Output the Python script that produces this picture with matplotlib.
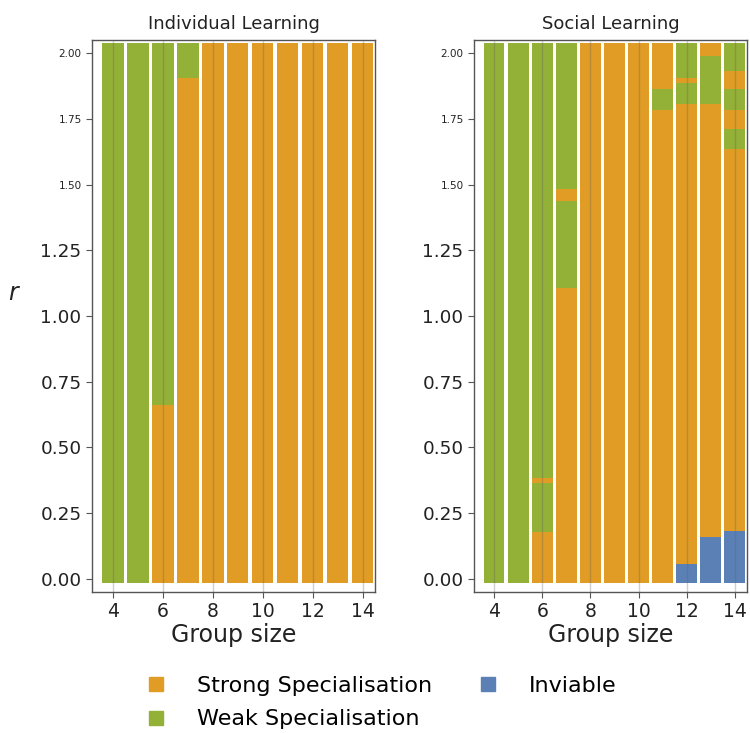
import matplotlib

matplotlib.use("Agg")
import matplotlib.pyplot as plt
from matplotlib.lines import Line2D

STRONG_COLOR = "#E09C24"
WEAK_COLOR = "#93B037"
INVIABLE_COLOR = "#5B80B6"
COLORS = {"strong": STRONG_COLOR, "weak": WEAK_COLOR, "inviable": INVIABLE_COLOR}

GROUP_SIZES = [4, 5, 6, 7, 8, 9, 10, 11, 12, 13, 14]
R_BOTTOM = -0.015
R_TOP = 2.04

# per group size: list of (state, upper r boundary) from the bottom up
INDIVIDUAL = [
    [("weak", R_TOP)],
    [("weak", R_TOP)],
    [("strong", 0.66), ("weak", R_TOP)],
    [("strong", 1.905), ("weak", R_TOP)],
    [("strong", R_TOP)],
    [("strong", R_TOP)],
    [("strong", R_TOP)],
    [("strong", R_TOP)],
    [("strong", R_TOP)],
    [("strong", R_TOP)],
    [("strong", R_TOP)],
]

SOCIAL = [
    [("weak", R_TOP)],
    [("weak", R_TOP)],
    [("strong", 0.18), ("weak", 0.364), ("strong", 0.384), ("weak", R_TOP)],
    [("strong", 1.108), ("weak", 1.437), ("strong", 1.483), ("weak", R_TOP)],
    [("strong", R_TOP)],
    [("strong", R_TOP)],
    [("strong", R_TOP)],
    [("strong", 1.783), ("weak", 1.863), ("strong", R_TOP)],
    [("inviable", 0.058), ("strong", 1.808), ("weak", 1.888), ("strong", 1.907), ("weak", R_TOP)],
    [("inviable", 0.16), ("strong", 1.808), ("weak", 1.989), ("strong", R_TOP)],
    [("inviable", 0.183), ("strong", 1.634), ("weak", 1.713), ("strong", 1.783),
     ("weak", 1.863), ("strong", 1.932), ("weak", R_TOP)],
]

Y_TICKS = [0.0, 0.25, 0.5, 0.75, 1.0, 1.25, 1.5, 1.75, 2.0]
X_TICKS = [4, 6, 8, 10, 12, 14]

plt.rcParams.update({"font.family": "DejaVu Sans"})


def draw_panel(ax, segments, title):
    for x, bar in zip(GROUP_SIZES, segments):
        bottom = R_BOTTOM
        for state, top in bar:
            ax.bar(x, top - bottom, bottom=bottom, width=0.87,
                   color=COLORS[state], linewidth=0, zorder=1)
            bottom = top
    ax.set_xlim(3.17, 14.5)
    ax.set_ylim(-0.05, 2.05)
    ax.set_xticks(X_TICKS)
    ax.set_xticklabels([str(t) for t in X_TICKS], fontsize=13.5, color="#222222")
    ax.set_yticks(Y_TICKS)
    ax.set_yticklabels([f"{t:.2f}" for t in Y_TICKS], color="#222222")
    # the top three tick labels are printed in a much smaller font
    for value, label in zip(Y_TICKS, ax.get_yticklabels()):
        label.set_fontsize(7.5 if value >= 1.5 else 13.2)
    ax.grid(axis="x", color="#606060", alpha=0.3, linewidth=1.0, zorder=2)
    ax.set_axisbelow(False)
    for spine in ax.spines.values():
        spine.set_color("#555555")
        spine.set_linewidth(1.0)
    ax.tick_params(axis="both", color="#555555", length=4)
    ax.set_xlabel("Group size", fontsize=17, color="#222222", labelpad=1)
    ax.set_title(title, fontsize=13, color="#222222", pad=8)


fig = plt.figure(figsize=(7.5, 7.33), dpi=100)
ax_left = fig.add_axes([92 / 750, 1 - 592 / 733, 283 / 750, 552 / 733])
ax_right = fig.add_axes([474 / 750, 1 - 592 / 733, 273 / 750, 552 / 733])

draw_panel(ax_left, INDIVIDUAL, "Individual Learning")
draw_panel(ax_right, SOCIAL, "Social Learning")

fig.text(13 / 750, 1 - 293 / 733, "r", fontsize=17, fontstyle="italic",
         ha="center", va="center", color="#222222")

handles = [
    Line2D([], [], marker="s", linestyle="", markersize=10, color=STRONG_COLOR),
    Line2D([], [], marker="s", linestyle="", markersize=10, color=WEAK_COLOR),
    Line2D([], [], marker="s", linestyle="", markersize=10, color=INVIABLE_COLOR),
]
labels = ["Strong Specialisation", "Weak Specialisation", "Inviable"]
fig.legend(handles, labels, loc="upper center", bbox_to_anchor=(0.5, 1 - 656 / 733),
           ncol=2, frameon=False, fontsize=16, handletextpad=0.85,
           columnspacing=1.5, labelspacing=0.6)

fig.savefig("out.png", dpi=100)
